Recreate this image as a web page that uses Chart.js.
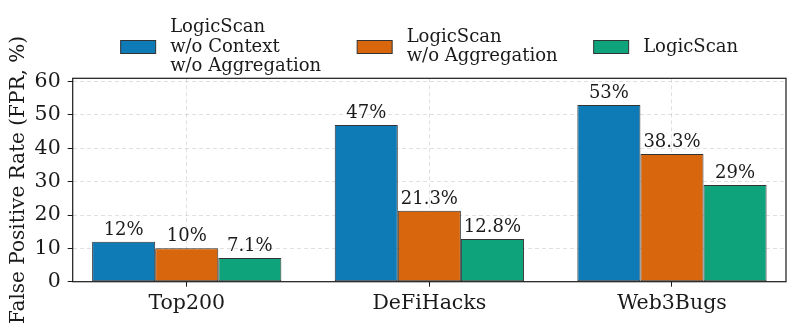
<!DOCTYPE html>
<html>
<head>
<meta charset="utf-8">
<script src="https://cdn.jsdelivr.net/npm/chart.js@4.4.0/dist/chart.umd.min.js"></script>
<style>
  html, body { margin: 0; padding: 0; background: #fff; }
  #wrap { width: 798px; height: 326px; }
</style>
</head>
<body>
<div id="wrap"><canvas id="fpr"></canvas></div>
<script>
const categories = ['Top200', 'DeFiHacks', 'Web3Bugs'];
const seriesNames = [
    ['LogicScan', 'w/o Context', 'w/o Aggregation'],
    ['LogicScan', 'w/o Aggregation'],
    ['LogicScan']
];
const noContextNoAgg = [12, 47, 53];
const noAgg = [10, 21.3, 38.3];
const logicScan = [7.1, 12.8, 29];

const colors = ['#0E7AB6', '#D7660D', '#0EA37A'];
const edge = '#333333';
const ink = '#1a1a1a';
const family = '"DejaVu Serif", serif';

const toPoints = arr => arr.map((v, i) => ({ x: i, y: v }));

// legend, value labels and the box around the plot
const decor = {
    id: 'decor',
    afterDatasetsDraw(chart) {
        const { ctx, chartArea: a } = chart;
        ctx.save();

        ctx.font = '18px ' + family;
        ctx.fillStyle = ink;
        ctx.textAlign = 'center';
        ctx.textBaseline = 'alphabetic';
        chart.data.datasets.forEach((ds, i) => {
            chart.getDatasetMeta(i).data.forEach((bar, j) => {
                ctx.fillText(ds.data[j].y + '%', bar.x, bar.y - 7);
            });
        });

        ctx.strokeStyle = ink;
        ctx.lineWidth = 1.2;
        ctx.strokeRect(a.left, a.top, a.right - a.left, a.bottom - a.top);

        const boxW = 35, boxH = 13, gapText = 14.5, gapItem = 36, lineH = 19.5, cy = 47;
        ctx.textAlign = 'left';
        ctx.textBaseline = 'middle';
        const widths = seriesNames.map(lines =>
            boxW + gapText + Math.max(...lines.map(l => ctx.measureText(l).width)));
        const total = widths.reduce((s, w) => s + w, 0) + gapItem * (widths.length - 1);
        let x = (a.left + a.right) / 2 - total / 2;
        seriesNames.forEach((lines, i) => {
            ctx.fillStyle = colors[i];
            ctx.fillRect(x, cy - boxH / 2, boxW, boxH);
            ctx.strokeStyle = edge;
            ctx.lineWidth = 1;
            ctx.strokeRect(x, cy - boxH / 2, boxW, boxH);
            ctx.fillStyle = ink;
            lines.forEach((l, k) => {
                ctx.fillText(l, x + boxW + gapText, cy + (k - (lines.length - 1) / 2) * lineH);
            });
            x += widths[i] + gapItem;
        });

        ctx.restore();
    }
};

const gridOpts = { color: 'rgba(0,0,0,0.12)', tickColor: ink, tickLength: 5, tickWidth: 1, offset: false };

new Chart(document.getElementById('fpr'), {
    type: 'bar',
    data: {
        datasets: [
            { label: seriesNames[0].join(' '), data: toPoints(noContextNoAgg), backgroundColor: colors[0] },
            { label: seriesNames[1].join(' '), data: toPoints(noAgg), backgroundColor: colors[1] },
            { label: seriesNames[2].join(' '), data: toPoints(logicScan), backgroundColor: colors[2] }
        ]
    },
    options: {
        responsive: true,
        maintainAspectRatio: false,
        animation: false,
        layout: { padding: { top: 78.3, right: 12, left: 0, bottom: 0 } },
        datasets: {
            bar: {
                categoryPercentage: 0.78,
                barPercentage: 1,
                borderColor: edge,
                borderWidth: 1,
                borderSkipped: false
            }
        },
        plugins: {
            legend: { display: false },
            tooltip: { enabled: false }
        },
        scales: {
            x: {
                type: 'linear',
                min: -0.47,
                max: 2.47,
                offset: false,
                ticks: {
                    stepSize: 1,
                    includeBounds: false,
                    autoSkip: false,
                    maxRotation: 0,
                    padding: 5,
                    color: ink,
                    font: { family: family, size: 20.5 },
                    callback: v => categories[v] ?? ''
                },
                grid: gridOpts,
                border: { display: false, dash: [4, 3] },
                afterFit: s => { s.height = 44.3; }
            },
            y: {
                min: 0,
                max: 61,
                ticks: {
                    stepSize: 10,
                    includeBounds: false,
                    padding: 7,
                    color: ink,
                    font: { family: family, size: 20.5 }
                },
                grid: gridOpts,
                border: { display: false, dash: [4, 3] },
                title: {
                    display: true,
                    text: 'False Positive Rate (FPR, %)',
                    color: ink,
                    font: { family: family, size: 20 },
                    padding: { top: 7, bottom: 0 }
                },
                afterFit: s => { s.width = 72.7; }
            }
        }
    },
    plugins: [decor]
});
</script>
</body>
</html>
